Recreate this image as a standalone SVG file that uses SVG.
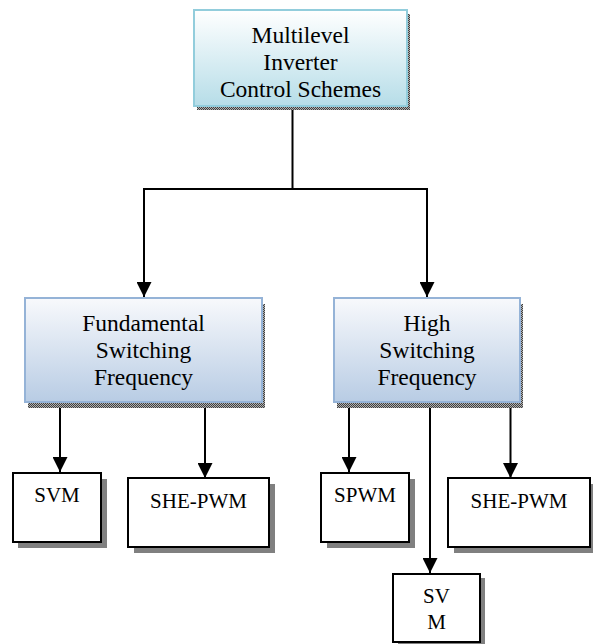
<svg xmlns="http://www.w3.org/2000/svg" width="593" height="644" viewBox="0 0 593 644">
<style>
  .t{font-family:'Liberation Serif','Tinos','Times New Roman','DejaVu Serif',serif;font-size:23.5px;fill:#000;text-anchor:middle}
  .s{font-family:'Liberation Serif','Tinos','Times New Roman','DejaVu Serif',serif;font-size:21px;fill:#000;text-anchor:middle}
  .conn{stroke:#000;stroke-width:2;fill:none}
  .wbox{fill:#fff;stroke:#000;stroke-width:2}
  .wsh{fill:#808080}
  .dsh{fill:url(#dots)}
</style>
<defs>
  <linearGradient id="gTop" x1="0" y1="0" x2="0" y2="1">
    <stop offset="0" stop-color="#ffffff"/>
    <stop offset="1" stop-color="#b6dde8"/>
  </linearGradient>
  <linearGradient id="gMid" x1="0" y1="0" x2="0" y2="1">
    <stop offset="0" stop-color="#f8f9fc"/>
    <stop offset="1" stop-color="#b8cce4"/>
  </linearGradient>
  <pattern id="dots" width="2" height="2" patternUnits="userSpaceOnUse">
    <rect width="2" height="2" fill="#b0b0b0"/>
    <rect width="1" height="1" fill="#404040"/>
    <rect x="1" y="1" width="1" height="1" fill="#404040"/>
  </pattern>
  <marker id="arr" markerUnits="userSpaceOnUse" markerWidth="16" markerHeight="15" refX="15" refY="7.5" orient="auto" viewBox="0 0 16 15">
    <path d="M0,0 L15,7.5 L0,15 Z" fill="#000"/>
  </marker>
</defs>

<g id="connectors">
  <polyline class="conn" points="292.5,106 292.5,189"/>
  <polyline class="conn" points="144,189 427,189"/>
  <line class="conn" x1="144" y1="188" x2="144" y2="297" marker-end="url(#arr)"/>
  <line class="conn" x1="427" y1="188" x2="427" y2="297" marker-end="url(#arr)"/>
  <line class="conn" x1="60" y1="402" x2="60" y2="472" marker-end="url(#arr)"/>
  <line class="conn" x1="205" y1="402" x2="205" y2="478" marker-end="url(#arr)"/>
  <line class="conn" x1="349" y1="402" x2="349" y2="472" marker-end="url(#arr)"/>
  <line class="conn" x1="430" y1="402" x2="430" y2="573" marker-end="url(#arr)"/>
  <line class="conn" x1="510.5" y1="402" x2="510.5" y2="478" marker-end="url(#arr)"/>
</g>

<g id="root">
  <rect class="dsh" x="197" y="14" width="213" height="96"/>
  <rect x="194" y="10" width="213" height="96" fill="url(#gTop)" stroke="#92cddc" stroke-width="2"/>
  <text class="t" x="300.5" y="42.5">Multilevel</text>
  <text class="t" x="300.5" y="69.5">Inverter</text>
  <text class="t" x="300.5" y="96.5">Control Schemes</text>
</g>

<g id="fundamental">
  <rect class="dsh" x="28" y="304" width="237" height="104"/>
  <rect x="25" y="298" width="237" height="104" fill="url(#gMid)" stroke="#95b3d7" stroke-width="2"/>
  <text class="t" x="143.5" y="331">Fundamental</text>
  <text class="t" x="143.5" y="358">Switching</text>
  <text class="t" x="143.5" y="385">Frequency</text>
</g>

<g id="high">
  <rect class="dsh" x="337" y="304" width="186" height="104"/>
  <rect x="334" y="298" width="186" height="104" fill="url(#gMid)" stroke="#95b3d7" stroke-width="2"/>
  <text class="t" x="427" y="331">High</text>
  <text class="t" x="427" y="358">Switching</text>
  <text class="t" x="427" y="385">Frequency</text>
</g>

<g id="svm1">
  <rect class="wsh" x="18" y="479" width="89" height="69"/>
  <rect class="wbox" x="13" y="473" width="88" height="69"/>
  <text class="s" x="57" y="502">SVM</text>
</g>

<g id="shepwm1">
  <rect class="wsh" x="134" y="484" width="141" height="69"/>
  <rect class="wbox" x="128" y="478" width="141" height="69"/>
  <text class="s" x="198.5" y="508">SHE-PWM</text>
</g>

<g id="spwm">
  <rect class="wsh" x="327" y="479" width="88" height="69"/>
  <rect class="wbox" x="321" y="473" width="88" height="69"/>
  <text class="s" x="365" y="502">SPWM</text>
</g>

<g id="shepwm2">
  <rect class="wsh" x="454" y="484" width="142" height="69"/>
  <rect class="wbox" x="448" y="478" width="142" height="69"/>
  <text class="s" x="519" y="508">SHE-PWM</text>
</g>

<g id="svm2">
  <rect class="wsh" x="398" y="578" width="87" height="69"/>
  <rect class="wbox" x="393" y="574" width="87" height="68"/>
  <text class="s" x="436.5" y="603">SV</text>
  <text class="s" x="436.5" y="629">M</text>
</g>
</svg>
